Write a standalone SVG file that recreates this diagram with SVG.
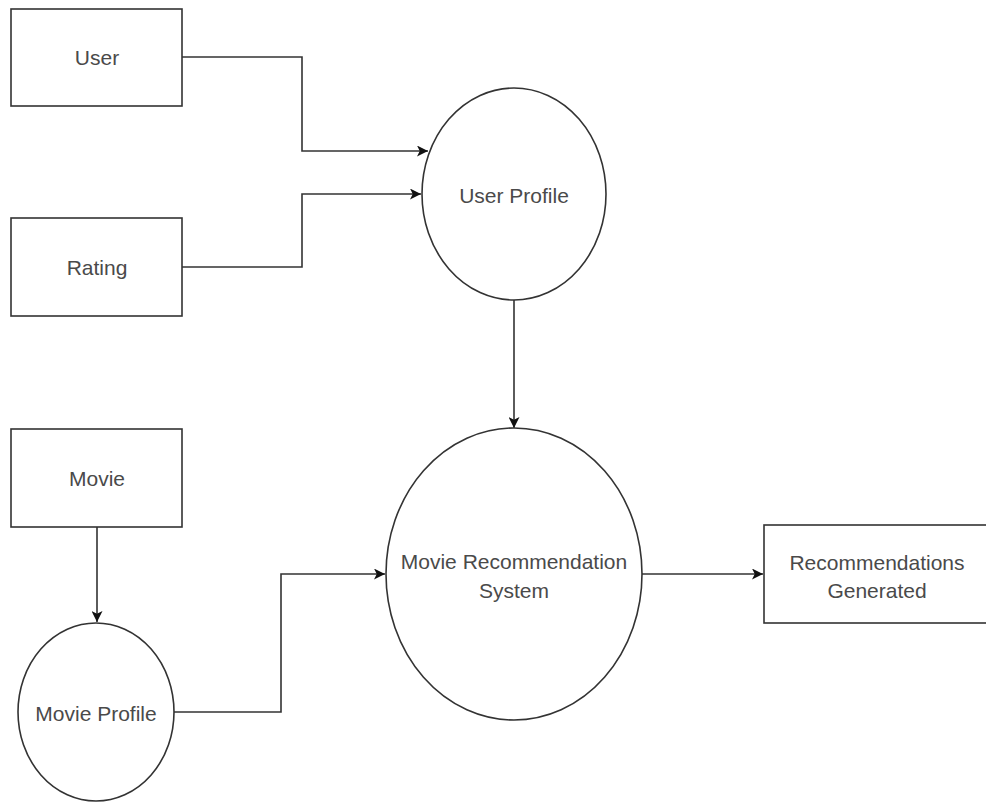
<svg xmlns="http://www.w3.org/2000/svg" width="986" height="804" viewBox="0 0 986 804">
  <style>
    .shape { fill: #ffffff; stroke: #333333; stroke-width: 1.6; }
    .label { font-family: "Liberation Sans", Arial, sans-serif; font-size: 21px; fill: #4a4a4a; text-anchor: middle; }
    .flow { fill: none; stroke: #333333; stroke-width: 1.6; marker-end: url(#arrow); }
  </style>
  <defs>
    <marker id="arrow" viewBox="0 0 10 10" refX="10" refY="5" markerWidth="11" markerHeight="11" markerUnits="userSpaceOnUse" orient="auto">
      <path d="M0,0 L10,5 L0,10 L2.5,5 Z" fill="#111111"/>
    </marker>
  </defs>
  <rect width="986" height="804" fill="#ffffff"/>

  <g id="connectors">
    <path class="flow" d="M182,57 H302 V151 H428"/>
    <path class="flow" d="M182,267 H302 V194 H421"/>
    <path class="flow" d="M514,300 V428"/>
    <path class="flow" d="M97,527 V622"/>
    <path class="flow" d="M174,712 H281 V574 H385"/>
    <path class="flow" d="M642,574 H763"/>
  </g>

  <g id="user">
    <rect class="shape" x="11" y="9" width="171" height="97"/>
    <text class="label" x="97" y="65">User</text>
  </g>

  <g id="rating">
    <rect class="shape" x="11" y="218" width="171" height="98"/>
    <text class="label" x="97" y="275">Rating</text>
  </g>

  <g id="user-profile">
    <ellipse class="shape" cx="514" cy="194" rx="92" ry="106"/>
    <text class="label" x="514" y="203">User Profile</text>
  </g>

  <g id="movie">
    <rect class="shape" x="11" y="429" width="171" height="98"/>
    <text class="label" x="97" y="486">Movie</text>
  </g>

  <g id="movie-profile">
    <ellipse class="shape" cx="96" cy="712" rx="78" ry="89"/>
    <text class="label" x="96" y="721">Movie Profile</text>
  </g>

  <g id="recommendation-system">
    <ellipse class="shape" cx="514" cy="574" rx="128" ry="146"/>
    <text class="label" x="514" y="569">Movie Recommendation</text>
    <text class="label" x="514" y="598">System</text>
  </g>

  <g id="recommendations-generated">
    <rect class="shape" x="764" y="525" width="228" height="98"/>
    <text class="label" x="877" y="570">Recommendations</text>
    <text class="label" x="877" y="598">Generated</text>
  </g>
</svg>
